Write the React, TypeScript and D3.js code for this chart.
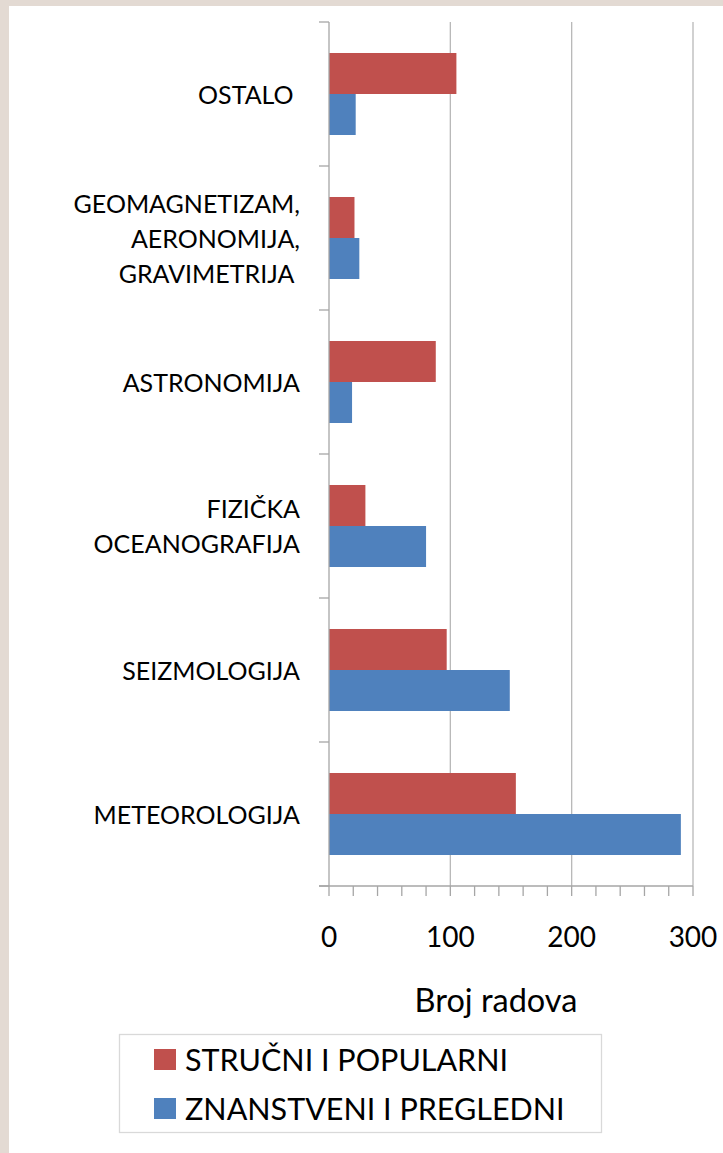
import React from "react";
import * as d3 from "d3";

// Categories, top to bottom; multi-line names are split on "\n"
const categories = [
  "OSTALO ",
  "GEOMAGNETIZAM,\nAERONOMIJA,\nGRAVIMETRIJA ",
  "ASTRONOMIJA",
  "FIZIČKA\nOCEANOGRAFIJA",
  "SEIZMOLOGIJA",
  "METEOROLOGIJA",
];

const seriesNames = ["STRUČNI I POPULARNI", "ZNANSTVENI I PREGLEDNI"];
const seriesColors = ["#C0504D", "#4F81BD"];

// Number of papers per category
const strucni = [105, 21, 88, 30, 97, 154];
const znanstveni = [22, 25, 19, 80, 149, 290];

const xTicks = [0, 100, 200, 300];
const axisTitle = "Broj radova";

const W = 723;
const H = 1153;
const FONT = "Lato, 'Open Sans', sans-serif";

export default function App() {
  const x = d3.scaleLinear().domain([0, 300]).range([329, 693]);
  const y = d3.scaleBand<string>().domain(categories).range([22, 886]);
  const sub = d3
    .scaleBand<number>()
    .domain([0, 1])
    .range([0, y.bandwidth()])
    .paddingInner(0)
    .paddingOuter(0.756);
  const values = [strucni, znanstveni];
  const minorTicks = d3.range(0, 301, 20);
  const bandEdges = categories.map((c) => y(c) as number).concat([886]);
  const lineH = 35;

  return (
    <div style={{ position: "absolute", left: 0, top: 0 }}>
      <svg width={W} height={H} style={{ display: "block" }}>
        <rect x={0} y={0} width={W} height={H} fill="#e3dad3" />
        <rect x={9} y={6} width={W - 9} height={H - 6} fill="#ffffff" />

        {/* gridlines */}
        {xTicks.slice(1).map((t) => (
          <line key={t} x1={x(t)} x2={x(t)} y1={22} y2={886} stroke="#b8b8b8" strokeWidth={1.3} />
        ))}

        {/* bars */}
        {values.map((vals, s) =>
          categories.map((c, i) => (
            <rect
              key={`${s}-${i}`}
              x={x(0)}
              y={(y(c) as number) + (sub(s) as number)}
              width={x(vals[i]) - x(0)}
              height={sub.bandwidth()}
              fill={seriesColors[s]}
            />
          ))
        )}

        {/* value axis */}
        <line x1={319} x2={x(300)} y1={886} y2={886} stroke="#a6a6a6" strokeWidth={1.3} />
        {minorTicks.map((t) => (
          <line key={t} x1={x(t)} x2={x(t)} y1={886} y2={896} stroke="#a6a6a6" strokeWidth={1.3} />
        ))}
        {xTicks.map((t) => (
          <text key={t} x={x(t)} y={947} textAnchor="middle" fontFamily={FONT} fontSize={28} fill="#000">
            {t}
          </text>
        ))}
        <text x={496} y={1012} textAnchor="middle" fontFamily={FONT} fontSize={32.5} fill="#000">
          {axisTitle}
        </text>

        {/* category axis */}
        <line x1={x(0)} x2={x(0)} y1={22} y2={886} stroke="#a6a6a6" strokeWidth={1.3} />
        {bandEdges.map((e, i) => (
          <line key={i} x1={319} x2={x(0)} y1={e} y2={e} stroke="#a6a6a6" strokeWidth={1.3} />
        ))}
        {categories.map((c) => {
          const lines = c.split("\n");
          const cy = (y(c) as number) + y.bandwidth() / 2;
          return (
            <text key={c} textAnchor="end" fontFamily={FONT} fontSize={25} fill="#000" style={{ whiteSpace: "pre" }}>
              {lines.map((l, k) => (
                <tspan key={k} x={300} y={cy + (k - (lines.length - 1) / 2) * lineH + 9.5}>
                  {l}
                </tspan>
              ))}
            </text>
          );
        })}

        {/* legend */}
        <rect x={119.5} y={1034.5} width={482} height={98} fill="#fff" stroke="#d9d9d9" strokeWidth={1.3} />
        {seriesNames.map((n, i) => (
          <g key={n} transform={`translate(0, ${i * 49})`}>
            <rect x={154} y={1049} width={22} height={21} fill={seriesColors[i]} />
            <text x={185} y={1070.5} fontFamily={FONT} fontSize={30.5} fill="#000">
              {n}
            </text>
          </g>
        ))}
      </svg>
    </div>
  );
}
